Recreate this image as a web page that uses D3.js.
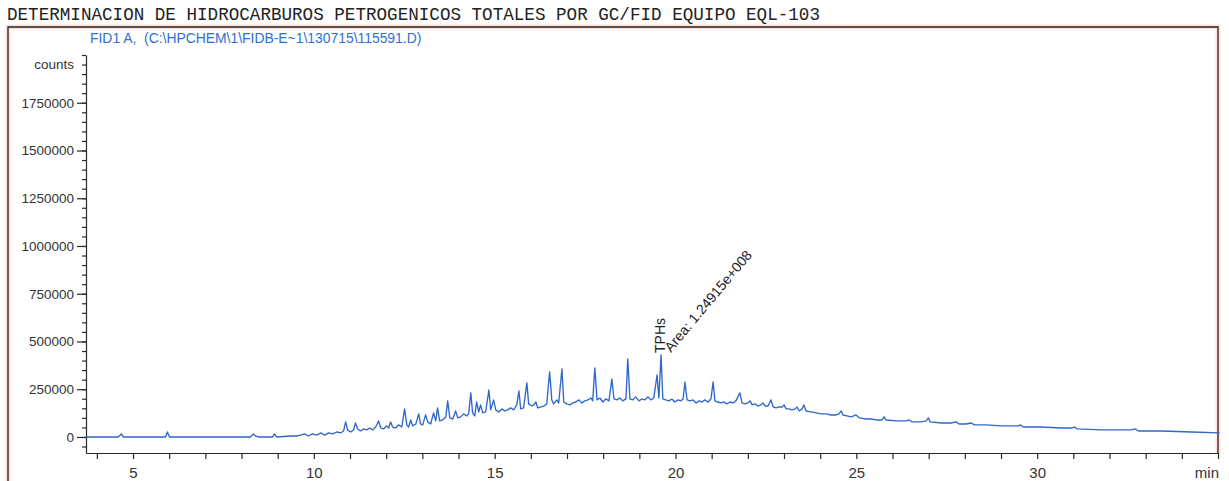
<!DOCTYPE html>
<html>
<head>
<meta charset="utf-8">
<script src="https://cdn.jsdelivr.net/npm/d3@7/dist/d3.min.js"></script>
<style>
  body { margin: 0; background: #fff; }
  text { font-family: Arial, "Liberation Sans", sans-serif; }
</style>
</head>
<body>
<div id="chart"></div>
<script>
const TITLE = "DETERMINACION DE HIDROCARBUROS PETROGENICOS TOTALES POR GC/FID EQUIPO EQL-103";
const SIGNAL = "FID1 A,  (C:\\HPCHEM\\1\\FIDB-E~1\\130715\\115591.D)";

// retention time (min)
const rtMin = [
  3.71, 4.59, 4.68, 4.73, 5.90, 5.95, 6.01, 8.25, 8.33, 8.39, 8.47, 8.86, 8.91, 8.97, 9.36, 9.52,
  9.63, 9.74, 9.85, 9.96, 10.08, 10.19, 10.30, 10.41, 10.52, 10.63, 10.74, 10.82, 10.88, 10.93, 11.02, 11.10,
  11.15, 11.21, 11.29, 11.38, 11.46, 11.54, 11.63, 11.71, 11.79, 11.85, 11.93, 12.01, 12.07, 12.12, 12.18, 12.26,
  12.34, 12.43, 12.51, 12.57, 12.62, 12.68, 12.73, 12.82, 12.90, 12.95, 13.01, 13.09, 13.15, 13.23, 13.31, 13.37,
  13.42, 13.48, 13.56, 13.65, 13.70, 13.76, 13.84, 13.92, 13.98, 14.06, 14.14, 14.23, 14.28, 14.34, 14.39, 14.45,
  14.50, 14.56, 14.61, 14.67, 14.75, 14.84, 14.89, 14.97, 15.03, 15.11, 15.20, 15.28, 15.36, 15.44, 15.53, 15.61,
  15.67, 15.72, 15.80, 15.89, 15.94, 16.03, 16.08, 16.14, 16.19, 16.28, 16.36, 16.44, 16.52, 16.58, 16.63, 16.72,
  16.77, 16.86, 16.91, 16.99, 17.08, 17.16, 17.24, 17.33, 17.41, 17.49, 17.58, 17.66, 17.71, 17.77, 17.83, 17.91,
  17.99, 18.07, 18.16, 18.24, 18.30, 18.38, 18.46, 18.54, 18.63, 18.68, 18.74, 18.82, 18.90, 18.99, 19.07, 19.15,
  19.24, 19.32, 19.40, 19.49, 19.54, 19.60, 19.65, 19.73, 19.82, 19.90, 19.98, 20.07, 20.15, 20.21, 20.26, 20.32,
  20.40, 20.48, 20.57, 20.65, 20.73, 20.81, 20.90, 20.98, 21.04, 21.09, 21.17, 21.26, 21.34, 21.42, 21.51, 21.59,
  21.67, 21.78, 21.84, 21.92, 22.00, 22.06, 22.12, 22.20, 22.28, 22.36, 22.42, 22.48, 22.56, 22.64, 22.70, 22.78,
  22.86, 22.95, 23.00, 23.06, 23.14, 23.22, 23.31, 23.36, 23.42, 23.50, 23.55, 23.61, 23.75, 23.89, 24.02, 24.16,
  24.30, 24.44, 24.52, 24.58, 24.63, 24.74, 24.86, 24.99, 25.08, 25.27, 25.41, 25.55, 25.71, 25.77, 25.82, 26.10,
  26.38, 26.46, 26.54, 26.79, 26.93, 26.99, 27.04, 27.35, 27.62, 27.76, 27.84, 28.04, 28.18, 28.26, 28.59, 29.01,
  29.28, 29.48, 29.53, 29.62, 30.11, 30.67, 30.97, 31.03, 31.11, 31.77, 32.60, 32.72, 32.80, 33.44, 34.27, 35.04
];

// detector response (counts) at each retention time
const counts = [
  0, 0, 16000, 0, 0, 26000, 0, 0, 16000, 5000, 0, 0, 16000, 0, 5000, 5000,
  10000, 16000, 5000, 16000, 10000, 21000, 10000, 21000, 16000, 26000, 21000, 31000, 79000, 37000, 26000, 37000,
  73000, 42000, 31000, 42000, 37000, 47000, 37000, 52000, 84000, 47000, 42000, 58000, 47000, 79000, 52000, 47000,
  63000, 52000, 147000, 63000, 52000, 89000, 58000, 68000, 121000, 68000, 63000, 115000, 79000, 68000, 126000, 84000,
  152000, 84000, 89000, 105000, 189000, 100000, 94000, 136000, 100000, 105000, 121000, 110000, 121000, 231000, 126000, 110000,
  183000, 131000, 168000, 126000, 131000, 246000, 142000, 194000, 142000, 131000, 147000, 136000, 142000, 152000, 142000, 168000,
  241000, 147000, 152000, 283000, 173000, 162000, 168000, 183000, 152000, 157000, 162000, 173000, 341000, 194000, 173000, 194000,
  178000, 356000, 183000, 173000, 168000, 178000, 183000, 194000, 178000, 189000, 194000, 204000, 189000, 362000, 194000, 204000,
  183000, 199000, 189000, 304000, 199000, 194000, 204000, 189000, 199000, 409000, 199000, 194000, 210000, 189000, 199000, 194000,
  210000, 194000, 204000, 325000, 204000, 430000, 199000, 194000, 189000, 199000, 183000, 194000, 189000, 199000, 288000, 194000,
  189000, 194000, 178000, 189000, 183000, 194000, 183000, 199000, 288000, 189000, 183000, 178000, 183000, 173000, 183000, 178000,
  189000, 231000, 178000, 173000, 178000, 189000, 168000, 173000, 162000, 168000, 178000, 162000, 162000, 194000, 157000, 152000,
  157000, 157000, 168000, 147000, 147000, 142000, 147000, 157000, 136000, 147000, 168000, 136000, 131000, 126000, 121000, 121000,
  115000, 115000, 121000, 136000, 115000, 110000, 105000, 115000, 100000, 94000, 94000, 89000, 89000, 105000, 89000, 84000,
  84000, 89000, 79000, 79000, 84000, 100000, 79000, 73000, 73000, 79000, 68000, 68000, 73000, 63000, 63000, 58000,
  58000, 58000, 63000, 52000, 52000, 47000, 47000, 52000, 42000, 37000, 37000, 42000, 31000, 31000, 26000, 21000
];

const yTickValues = [0, 250000, 500000, 750000, 1000000, 1250000, 1500000, 1750000];
const xTickValues = [5, 10, 15, 20, 25, 30];
const yUnit = "counts";
const xUnit = "min";

const peakName = "TPHs";
const peakArea = "Area: 1.24915e+008";
const peakRt = 19.6;
const peakLabelCount = 440000;

const width = 1229;
const height = 481;
const plot = { left: 86, right: 1218, top: 55, bottom: 453 };

const svg = d3.select("#chart")
  .append("svg")
  .attr("width", width)
  .attr("height", height);

const x = d3.scaleLinear().domain([3.7, 35.0]).range([plot.left, plot.right]);
const y = d3.scaleLinear().domain([-84000, 2000000]).range([plot.bottom, plot.top]);

// faint pink fringe around the printed frame, like the scanned report
const frame = `M8,${height + 5}V27H${plot.right}V${plot.bottom}`;
svg.append("path")
  .attr("d", frame)
  .attr("fill", "none")
  .attr("stroke", "#fbe3dc")
  .attr("stroke-width", 5);
svg.append("path")
  .attr("d", frame)
  .attr("fill", "none")
  .attr("stroke", "#222")
  .attr("stroke-width", 1.3);

svg.append("text")
  .attr("x", 7)
  .attr("y", 20)
  .style("font-family", "'Courier New', 'Liberation Mono', monospace")
  .style("font-size", "17.6px")
  .attr("fill", "#222")
  .text(TITLE);

svg.append("text")
  .attr("x", 90)
  .attr("y", 43)
  .attr("xml:space", "preserve")
  .style("white-space", "pre")
  .style("font-size", "13.9px")
  .attr("fill", "#2f6fd6")
  .text(SIGNAL);

// y axis: labelled major ticks plus 50000 minor ticks
svg.append("g")
  .attr("transform", `translate(${plot.left},0)`)
  .call(d3.axisLeft(y).tickValues(d3.range(-50000, 2000001, 50000)).tickSize(4).tickFormat("").tickSizeOuter(0))
  .call((g) => g.select(".domain").remove());

const yAxis = svg.append("g")
  .attr("transform", `translate(${plot.left},0)`)
  .call(d3.axisLeft(y).tickValues(yTickValues).tickSize(9).tickPadding(3).tickFormat(d3.format("d")).tickSizeOuter(0));
yAxis.selectAll("text").style("font-size", "13.5px").attr("fill", "#333");

svg.append("text")
  .attr("x", plot.left - 12)
  .attr("y", y(1950000))
  .attr("dy", "0.32em")
  .attr("text-anchor", "end")
  .style("font-size", "13.5px")
  .attr("fill", "#333")
  .text(yUnit);

// x axis: a tick every minute, labels every 5
const xAxis = svg.append("g")
  .attr("transform", `translate(0,${plot.bottom})`)
  .call(d3.axisBottom(x).tickValues(d3.range(4, 35.5, 1)).tickSize(6).tickPadding(8)
    .tickFormat((d) => (xTickValues.includes(d) ? d : "")).tickSizeOuter(0));
xAxis.selectAll("text").style("font-size", "15px").attr("fill", "#333");

svg.selectAll(".domain, .tick line").attr("stroke", "#2a2a2a").attr("stroke-width", 1.2);

svg.append("text")
  .attr("x", plot.right + 1)
  .attr("y", 478)
  .attr("text-anchor", "end")
  .style("font-size", "15px")
  .attr("fill", "#333")
  .text(xUnit);

// chromatogram trace
const line = d3.line()
  .x((d, i) => x(rtMin[i]))
  .y((d) => y(d));

svg.append("path")
  .datum(counts)
  .attr("d", line)
  .attr("fill", "none")
  .attr("stroke", "#2f68c9")
  .attr("stroke-width", 1.35)
  .attr("stroke-linejoin", "round");

// peak annotation
const px = x(peakRt);
const py = y(peakLabelCount);

svg.append("text")
  .attr("transform", `translate(${px + 4},${py}) rotate(-90)`)
  .style("font-size", "14px")
  .attr("fill", "#222")
  .text(peakName);

svg.append("text")
  .attr("transform", `translate(${px + 10},${py}) rotate(-50)`)
  .style("font-size", "14px")
  .attr("fill", "#222")
  .text(peakArea);
</script>
</body>
</html>
